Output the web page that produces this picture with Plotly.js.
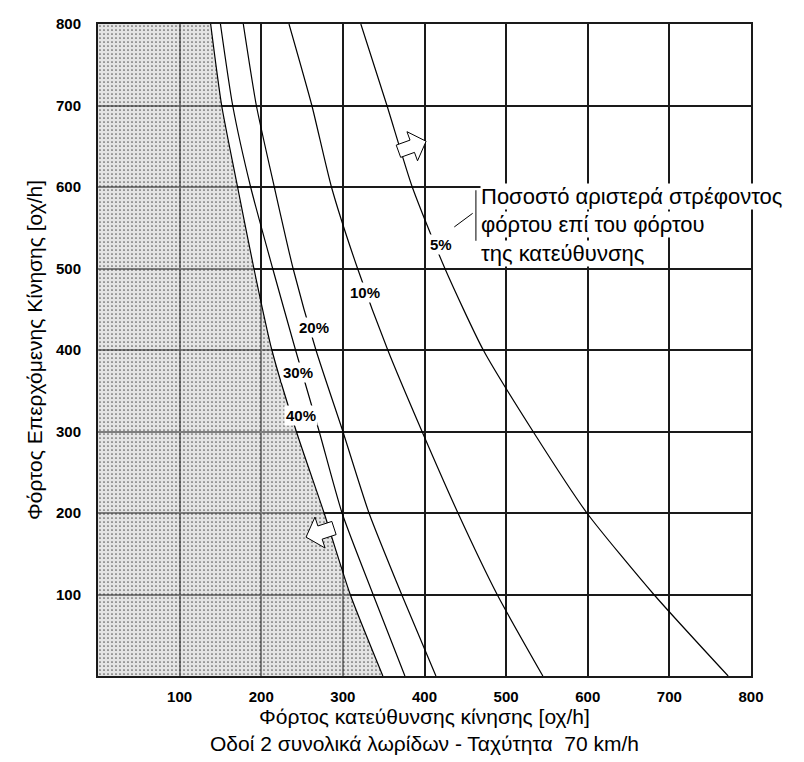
<!DOCTYPE html>
<html>
<head>
<meta charset="utf-8">
<script src="https://cdn.plot.ly/plotly-3.0.1.min.js"></script>
<style>html,body{margin:0;padding:0;background:#fff;}</style>
</head>
<body>
<div id="chart" style="width:804px;height:762px;"></div>
<script>
// Opposing volume levels (y) at which each curve was read
const yLevels = [0, 100, 200, 300, 400, 500, 600, 700, 800];
// Direction volume (x) of each curve at those levels
const curve40 = [349, 309, 277, 243, 213, 191, 171, 151.5, 138];
const curve30 = [376, 337, 299, 271, 242, 214, 187, 165, 150];
const curve20 = [414, 372, 332, 300, 267, 239, 216, 194, 178];
const curve10 = [545, 489, 441, 397, 355, 318, 286, 262, 234];
const curve05 = [772, 681, 599, 533, 472, 425, 385, 354, 322];

const seriesNames = ['40%', '30%', '20%', '10%', '5%'];
const seriesX = [curve40, curve30, curve20, curve10, curve05];
// label anchor points (data coords) for the percentage tags
const labelX = [249, 245, 265, 327, 420];
const labelY = [320, 372, 428, 470, 529];

const xTicks = [100, 200, 300, 400, 500, 600, 700, 800];
const yTicks = [100, 200, 300, 400, 500, 600, 700, 800];

const noteLines = ['Ποσοστό αριστερά στρέφοντος', 'φόρτου επί του φόρτου', 'της κατεύθυνσης'];
const noteY = [588, 553.5, 519];

const xTitle = 'Φόρτος κατεύθυνσης κίνησης [οχ/h]<br>Οδοί 2 συνολικά λωρίδων - Ταχύτητα  70 km/h';
const yTitle = 'Φόρτος Επερχόμενης Κίνησης [οχ/h]';

const FONT = 'Arial, Liberation Sans, sans-serif';

const traces = seriesX.map((xs, i) => {
  const t = {
    x: xs, y: yLevels, name: seriesNames[i], mode: 'lines',
    line: {color: '#000', width: 1.2, shape: 'spline', smoothing: 0.6},
    hoverinfo: 'skip', showlegend: false
  };
  if (i === 0) {
    t.fill = 'tozerox';
    t.fillcolor = 'rgba(205,205,205,0.55)';
    t.fillpattern = {shape: '.', fgcolor: '#000', fgopacity: 0.6, size: 4, solidity: 0.14, fillmode: 'overlay'};
  }
  return t;
});

function arrowPath(cx, cy, dx, dy, L, hl, hw, sw) {
  const n = Math.hypot(dx, dy); dx /= n; dy /= n;
  const px = -dy, py = dx;
  const tx = cx - dx * L / 2, ty = cy - dy * L / 2;
  const hx = cx + dx * L / 2, hy = cy + dy * L / 2;
  const bx = hx - dx * hl, by = hy - dy * hl;
  const pts = [
    [tx + px * sw / 2, ty + py * sw / 2],
    [bx + px * sw / 2, by + py * sw / 2],
    [bx + px * hw / 2, by + py * hw / 2],
    [hx, hy],
    [bx - px * hw / 2, by - py * hw / 2],
    [bx - px * sw / 2, by - py * sw / 2],
    [tx - px * sw / 2, ty - py * sw / 2]
  ];
  return 'M' + pts.map(p => p[0].toFixed(2) + ',' + p[1].toFixed(2)).join(' L') + ' Z';
}

const shapes = [
  {type: 'path', xref: 'x', yref: 'y', path: arrowPath(385, 650, 0.94, 0.34, 36, 18, 38, 16),
   fillcolor: '#fff', line: {color: '#000', width: 1}, layer: 'above'},
  {type: 'path', xref: 'x', yref: 'y', path: arrowPath(272, 176, -0.95, -0.31, 36, 18, 40, 17),
   fillcolor: '#fff', line: {color: '#000', width: 1}, layer: 'above'},
  {type: 'line', xref: 'x', yref: 'y', x0: 463, y0: 596, x1: 463, y1: 534, line: {color: '#000', width: 1}},
  {type: 'line', xref: 'x', yref: 'y', x0: 436.5, y0: 551, x1: 459, y1: 567.7, line: {color: '#000', width: 1}}
];

const annotations = [];
seriesNames.forEach((s, i) => {
  annotations.push({
    x: labelX[i], y: labelY[i], xref: 'x', yref: 'y', text: s, showarrow: false,
    font: {family: FONT, size: 15, color: '#000', weight: 'bold'},
    bgcolor: '#fff', borderpad: 1
  });
});
noteLines.forEach((s, i) => {
  annotations.push({
    x: 468, y: noteY[i], xref: 'x', yref: 'y', text: s, showarrow: false,
    xanchor: 'left', yanchor: 'middle', align: 'left',
    font: {family: FONT, size: 22, color: '#000'},
    bgcolor: '#fff', borderpad: 0
  });
});

const axisCommon = {
  range: [0, 800], showgrid: true, gridcolor: '#1a1a1a', gridwidth: 2,
  showline: true, linecolor: '#1a1a1a', linewidth: 2, mirror: true,
  zeroline: false, ticks: '', fixedrange: true, automargin: false,
  tickfont: {family: FONT, size: 15, color: '#000', weight: 'bold'}
};

const layout = {
  width: 804, height: 762,
  margin: {l: 98, r: 53, t: 24, b: 86},
  paper_bgcolor: '#fff', plot_bgcolor: '#fff',
  showlegend: false,
  xaxis: Object.assign({}, axisCommon, {
    tickvals: xTicks, ticktext: xTicks.map(String), ticklabelstandoff: 6,
    title: {text: xTitle, standoff: 4, font: {family: FONT, size: 21, color: '#000'}}
  }),
  yaxis: Object.assign({}, axisCommon, {
    tickvals: yTicks, ticktext: yTicks.map(String), ticklabelstandoff: 12,
    title: {text: yTitle, standoff: 8, font: {family: FONT, size: 21, color: '#000'}}
  }),
  shapes: shapes,
  annotations: annotations
};

Plotly.newPlot('chart', traces, layout, {staticPlot: true, displayModeBar: false});
</script>
</body>
</html>
